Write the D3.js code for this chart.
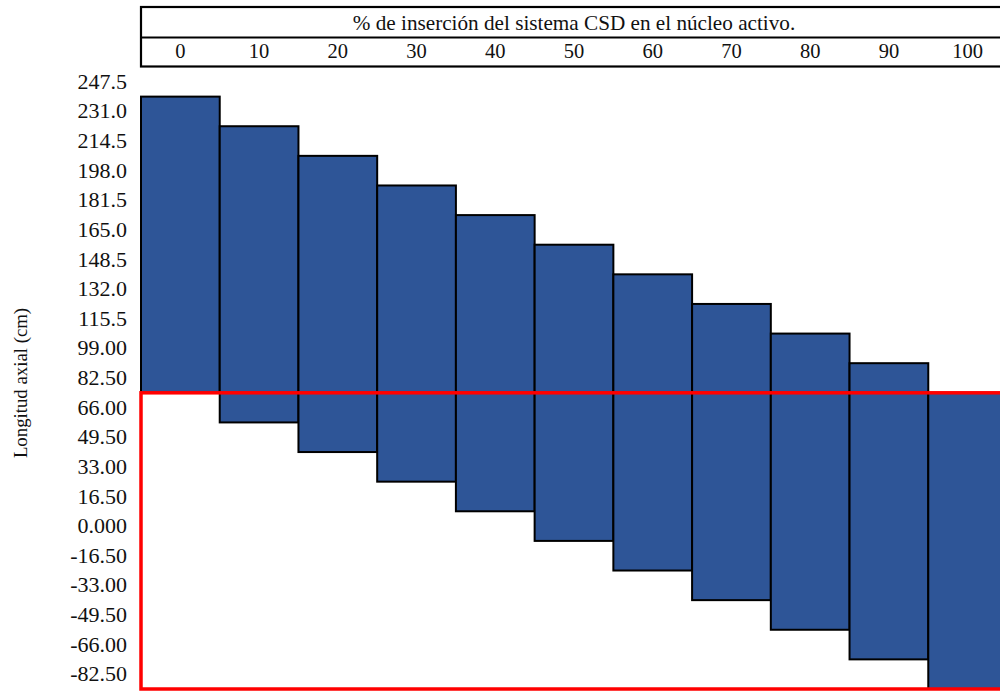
<!DOCTYPE html>
<html>
<head>
<meta charset="utf-8">
<script src="https://cdn.jsdelivr.net/npm/d3@7"></script>
<style>
  html, body { margin: 0; padding: 0; background: #fff; }
  svg { display: block; }
  text { font-family: "Liberation Serif", "Times New Roman", serif; fill: #111; }
</style>
</head>
<body>
<svg id="chart" width="1000" height="692"></svg>
<script>
// ---- data ----
const categories = ["0", "10", "20", "30", "40", "50", "60", "70", "80", "90", "100"];
const barLow  = [82.5, 66.0, 49.5, 33.0, 16.5, 0.0, -16.5, -33.0, -49.5, -66.0, -82.5];
const barHigh = [247.5, 231.0, 214.5, 198.0, 181.5, 165.0, 148.5, 132.0, 115.5, 99.0, 82.5];
const yTickValues = [247.5, 231.0, 214.5, 198.0, 181.5, 165.0, 148.5, 132.0, 115.5, 99.0, 82.5, 66.0, 49.5, 33.0, 16.5, 0.0, -16.5, -33.0, -49.5, -66.0, -82.5];
const yTickLabels = ["247.5", "231.0", "214.5", "198.0", "181.5", "165.0", "148.5", "132.0", "115.5", "99.00", "82.50", "66.00", "49.50", "33.00", "16.50", "0.000", "-16.50", "-33.00", "-49.50", "-66.00", "-82.50"];
const activeCore = [-82.5, 82.5];
const headerTitle = "% de inserción del sistema CSD en el núcleo activo.";
const yTitle = "Longitud axial (cm)";

// ---- layout ----
const svg = d3.select("#chart");
const plotLeft = 141, plotRight = 1007, plotTop = 67, plotBottom = 689;
const serif = '"Liberation Serif", "Times New Roman", serif';

const x = d3.scaleBand().domain(categories).range([plotLeft, plotRight]).padding(0);
const y = d3.scaleLinear().domain([-82.5, 264]).range([plotBottom, plotTop]);

// header table
const hTop = 7, hMid = 37.5, hBot = 66.5;
const header = svg.append("g");
header.append("rect")
  .attr("x", plotLeft).attr("y", hTop)
  .attr("width", plotRight - plotLeft + 10).attr("height", hBot - hTop)
  .attr("fill", "none").attr("stroke", "#000").attr("stroke-width", 2.2);
header.append("line")
  .attr("x1", plotLeft).attr("x2", plotRight + 10)
  .attr("y1", hMid).attr("y2", hMid)
  .attr("stroke", "#000").attr("stroke-width", 2.2);
header.append("text")
  .attr("x", (plotLeft + plotRight) / 2).attr("y", 29.5)
  .attr("text-anchor", "middle").attr("font-size", 21.2)
  .style("font-family", serif)
  .text(headerTitle);

// top category axis (as text in table row)
const xAxis = d3.axisTop(x).tickSize(0).tickPadding(0);
const xg = svg.append("g").attr("transform", `translate(0,58)`).call(xAxis)
  .attr("font-family", null);
xg.select(".domain").remove();
xg.selectAll("text").attr("font-size", 20.5).style("font-family", serif).attr("fill", "#111").attr("dy", 0);

// y axis labels (drawn half a step above their value, as in the reference)
const yAxis = d3.axisLeft(y).tickValues(yTickValues)
  .tickFormat((d, i) => yTickLabels[i]).tickSize(0).tickPadding(14);
const yg = svg.append("g").attr("transform", `translate(${plotLeft},0)`).call(yAxis)
  .attr("font-family", null);
yg.select(".domain").remove();
yg.selectAll(".tick").attr("transform", d => `translate(0,${y(d + 8.25)})`);
yg.selectAll("text").attr("font-size", 22).style("font-family", serif).attr("fill", "#111");

// y title
svg.append("text")
  .attr("transform", `translate(27,${(plotTop + plotBottom) / 2 + 5}) rotate(-90)`)
  .attr("text-anchor", "middle").attr("font-size", 18.8)
  .style("font-family", serif)
  .text(yTitle);

// bars
const data = categories.map((c, i) => ({ c, lo: barLow[i], hi: barHigh[i] }));
svg.append("g").selectAll("rect").data(data).join("rect")
  .attr("x", d => x(d.c))
  .attr("width", x.bandwidth())
  .attr("y", d => y(d.hi))
  .attr("height", d => y(d.lo) - y(d.hi))
  .attr("fill", "#2E5597")
  .attr("stroke", "#000")
  .attr("stroke-width", 2);

// active core region
svg.append("rect")
  .attr("x", plotLeft).attr("y", y(activeCore[1]))
  .attr("width", plotRight - plotLeft + 10)
  .attr("height", y(activeCore[0]) - y(activeCore[1]))
  .attr("fill", "none").attr("stroke", "#FF0000").attr("stroke-width", 3.5);
</script>
</body>
</html>
